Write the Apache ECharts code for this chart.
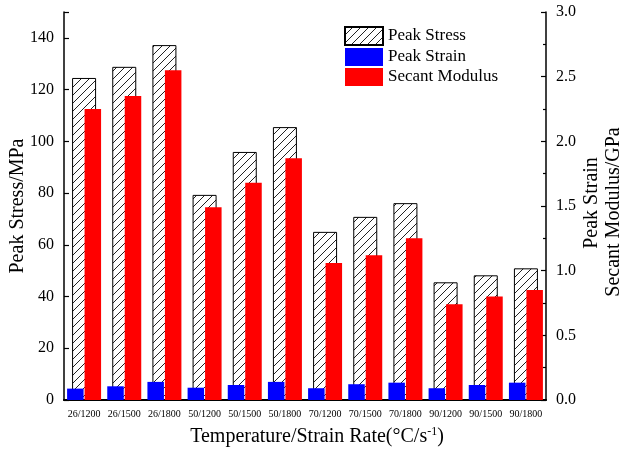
<!DOCTYPE html>
<html>
<head>
<meta charset="utf-8">
<script src="https://cdn.jsdelivr.net/npm/echarts@6/dist/echarts.min.js"></script>
<style>
  html, body { margin: 0; padding: 0; background: #fff; }
  #chart { width: 624px; height: 450px; }
</style>
</head>
<body>
<div id="chart"></div>
<script>
// Test groups: temperature (°C) / strain rate (s^-1)
const categories = ['26/1200', '26/1500', '26/1800', '50/1200', '50/1500', '50/1800',
                    '70/1200', '70/1500', '70/1800', '90/1200', '90/1500', '90/1800'];
// Peak stress, MPa (left axis)
const peakStress = [124.5, 128.8, 137.2, 79.3, 95.9, 105.5, 65.0, 70.8, 76.1, 45.5, 48.2, 50.9];
// Peak strain (right axis)
const peakStrain = [0.088, 0.106, 0.140, 0.095, 0.116, 0.140, 0.091, 0.122, 0.134, 0.091, 0.116, 0.134];
// Secant modulus, GPa (right axis)
const secantModulus = [2.25, 2.35, 2.55, 1.49, 1.68, 1.87, 1.06, 1.12, 1.25, 0.74, 0.80, 0.85];

const leftTicks = { min: 0, max: 150, interval: 20 };
const rightTicks = { min: 0, max: 3, interval: 0.5 };

// Diagonal hatch fill for the peak stress bars
function makeHatch() {
  const c = document.createElement('canvas');
  c.width = 8; c.height = 8;
  const g = c.getContext('2d');
  g.fillStyle = '#fff';
  g.fillRect(0, 0, 8, 8);
  g.strokeStyle = '#222';
  g.lineWidth = 1;
  g.beginPath();
  g.moveTo(0, 8); g.lineTo(8, 0);
  g.moveTo(-1, 1); g.lineTo(1, -1);
  g.moveTo(7, 9); g.lineTo(9, 7);
  g.stroke();
  return c;
}

const FONT = '"Liberation Serif", "Times New Roman", serif';
const chart = echarts.init(document.getElementById('chart'), null, { renderer: 'canvas' });

chart.setOption({
  animation: false,
  backgroundColor: '#fff',
  textStyle: { fontFamily: FONT, color: '#000' },
  grid: { left: 64, right: 78, top: 12, bottom: 50, containLabel: false },
  legend: {
    orient: 'vertical',
    left: 344, top: 26, padding: 0,
    icon: 'rect',
    itemWidth: 38, itemHeight: 18, itemGap: 2,
    selectedMode: false,
    textStyle: { fontFamily: FONT, fontSize: 17, color: '#000' },
    data: ['Peak Stress', 'Peak Strain', 'Secant Modulus']
  },
  xAxis: [
    {
      type: 'category', data: categories, position: 'bottom',
      axisLine: { lineStyle: { color: '#000', width: 2 } },
      axisTick: { show: true, inside: true, alignWithLabel: true, length: 4, lineStyle: { color: '#000', width: 1.5 } },
      axisLabel: { interval: 0, fontFamily: FONT, fontSize: 10, color: '#000', margin: 9 },
      splitLine: { show: false }
    },
    {
      type: 'category', data: categories, position: 'top',
      axisLine: { lineStyle: { color: '#000', width: 1.5 } },
      axisTick: { show: false }, axisLabel: { show: false },
      splitLine: { show: false }
    }
  ],
  yAxis: [
    {
      type: 'value', position: 'left',
      min: leftTicks.min, max: leftTicks.max, interval: leftTicks.interval,
      axisLine: { show: true, lineStyle: { color: '#000', width: 1.5 } },
      axisTick: { show: true, inside: true, length: 5, lineStyle: { color: '#000', width: 1.2 } },
      axisLabel: {
        fontFamily: FONT, fontSize: 16, color: '#000', margin: 10,
        formatter: v => (v % leftTicks.interval === 0 ? String(v) : '')
      },
      splitLine: { show: false }
    },
    {
      type: 'value', position: 'right',
      min: rightTicks.min, max: rightTicks.max, interval: rightTicks.interval,
      axisLine: { show: true, lineStyle: { color: '#000', width: 1.5 } },
      axisTick: { show: true, inside: true, length: 5, lineStyle: { color: '#000', width: 1.2 } },
      minorTick: { show: true, splitNumber: 2, length: 3, lineStyle: { color: '#000', width: 1.2 } },
      axisLabel: { fontFamily: FONT, fontSize: 16, color: '#000', margin: 10, formatter: v => v.toFixed(1) },
      splitLine: { show: false }
    }
  ],
  graphic: [
    {
      type: 'text', x: 18, y: 206, rotation: Math.PI / 2,
      style: { text: 'Peak Stress/MPa', fontFamily: FONT, fontSize: 20, fill: '#000', align: 'center', verticalAlign: 'middle' }
    },
    {
      type: 'text', x: 592, y: 203, rotation: Math.PI / 2,
      style: { text: 'Peak Strain', fontFamily: FONT, fontSize: 20, fill: '#000', align: 'center', verticalAlign: 'middle' }
    },
    {
      type: 'text', x: 614, y: 212, rotation: Math.PI / 2,
      style: { text: 'Secant Modulus/GPa', fontFamily: FONT, fontSize: 20, fill: '#000', align: 'center', verticalAlign: 'middle' }
    },
    {
      type: 'text', x: 317, y: 437,
      style: {
        text: '{t|Temperature/Strain Rate(°C/s}{s|-1}{t|)}',
        align: 'center', verticalAlign: 'middle',
        rich: {
          t: { fontFamily: FONT, fontSize: 20, fill: '#000', color: '#000' },
          s: { fontFamily: FONT, fontSize: 12, fill: '#000', color: '#000', verticalAlign: 'top', padding: [0, 0, 10, 0] }
        }
      }
    }
  ],
  series: [
    {
      name: 'Peak Stress', type: 'bar', xAxisIndex: 0, yAxisIndex: 0,
      data: peakStress, barWidth: 24,
      itemStyle: { color: { image: makeHatch(), repeat: 'repeat' }, borderColor: '#000', borderWidth: 1 },
      z: 1
    },
    {
      name: 'Peak Strain', type: 'bar', xAxisIndex: 1, yAxisIndex: 1,
      data: peakStrain, barWidth: 16.5, barGap: '6%',
      itemStyle: { color: '#0000ff' }, z: 2
    },
    {
      name: 'Secant Modulus', type: 'bar', xAxisIndex: 1, yAxisIndex: 1,
      data: secantModulus, barWidth: 16.5, barGap: '6%',
      itemStyle: { color: '#ff0000' }, z: 2
    }
  ]
});
</script>
</body>
</html>
